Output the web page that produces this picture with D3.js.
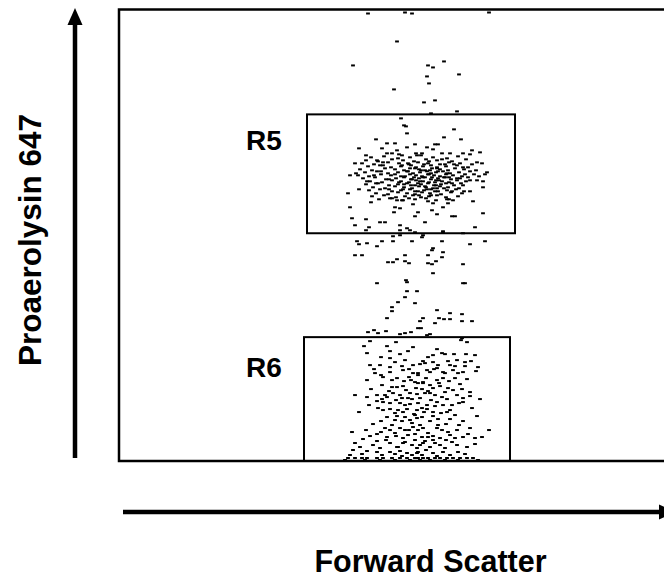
<!DOCTYPE html>
<html>
<head>
<meta charset="utf-8">
<script src="https://cdn.jsdelivr.net/npm/d3@7"></script>
<style>
  html, body { margin: 0; padding: 0; background: #fff; }
  svg { display: block; }
  text { font-family: "Liberation Sans", Arial, Helvetica, sans-serif; font-weight: bold; fill: #000; }
</style>
</head>
<body>
<svg id="chart" width="664" height="581"></svg>
<script>
// ---------- DATA (Forward Scatter, Proaerolysin 647 channel units) ----------
const xLabel = "Forward Scatter";
const yLabel = "Proaerolysin 647";
const fscDomain = [0, 560];
const proDomain = [0, 452];

// gates: name, fsc min/max, pro min/max
const gateNames = ["R5", "R6"];
const gateFsc = [[188, 396], [185, 391]];
const gatePro = [[228, 347], [0, 124]];

// events above R5
const eventsTop = [
  [249,448],[286,449],[293,448],[370,449],[278,420],[234,396],[309,396],[314,394],
  [325,400],[340,387],[308,385],[310,378],[275,372],[316,361],[305,359],[338,350],
  [312,348],[282,343]
];

// R5 sparse events
const eventsR5 = [
  [285,336],[287,335],[288,328],[335,332],[325,324],[342,322],[257,322],[268,318],
  [276,318],[296,317],[316,317],[319,317],[240,313],[263,313],[278,311],[288,314],
  [308,314],[314,312],[353,311],[361,309],[247,306],[268,308],[273,308],[283,306],
  [297,308],[303,308],[323,308],[331,308],[344,308],[351,307],[236,298],[258,301],
  [264,299],[358,299],[363,298],[231,286],[237,288],[368,289],[366,287],[229,268],
  [240,272],[364,280],[358,281],[364,274],[252,259],[354,260],[231,254],[233,243],
  [247,242],[236,236],[261,239],[266,239],[250,234],[281,236],[288,233],[296,245],
  [306,239],[324,230],[333,245],[336,245],[356,234],[364,248],[271,263],[278,261],
  [283,261],[276,254],[281,253],[294,257],[309,260],[314,258],[328,262],[334,261],
  [324,254],[329,258],[313,251],[318,247],[299,249],[275,249]
];

// R5 dense core events
const eventsR5Core = [
  [252,304],[265,305],[279,303],[291,304],[302,306],[314,304],[328,303],[339,305],
  [247,301],[259,300],[273,302],[284,301],[295,300],[307,302],[318,301],[333,300],[347,302],
  [243,298],[255,297],[269,299],[280,298],[290,297],[299,299],[309,298],[321,297],[330,299],[341,298],[353,297],
  [249,295],[261,296],[272,294],[282,295],[292,296],[297,294],[304,295],[312,296],[318,294],[327,295],[338,296],[349,294],
  [241,292],[253,291],[266,293],[276,292],[285,291],[291,293],[300,292],[306,291],[313,293],[321,292],[329,291],[336,293],[345,292],[357,291],
  [246,289],[258,290],[269,288],[279,289],[288,290],[294,288],[301,289],[308,290],[312,288],[317,289],[324,290],[331,288],[340,289],[351,290],
  [239,286],[250,285],[262,287],[272,286],[282,285],[291,287],[297,286],[303,285],[309,287],[315,286],[321,285],[327,287],[334,286],[343,285],[355,287],
  [244,283],[256,284],[267,282],[277,283],[285,284],[293,282],[300,283],[306,284],[312,282],[319,283],[325,284],[332,282],[341,283],[349,284],
  [251,280],[263,279],[273,281],[282,280],[290,279],[297,281],[304,280],[310,279],[317,281],[323,280],[330,279],[338,281],[347,280],
  [247,277],[259,278],[270,276],[279,277],[288,278],[296,276],[302,277],[309,278],[315,276],[322,277],[333,278],[344,276],
  [254,274],[266,273],[276,275],[285,274],[293,273],[300,275],[307,274],[314,273],[321,275],[329,274],[340,273],
  [250,271],[261,272],[273,270],[282,271],[291,272],[299,270],[305,271],[312,272],[319,270],[328,271],[337,272],[351,270],
  [257,268],[269,267],[279,269],[288,268],[296,267],[303,269],[311,268],[322,267],[332,269],[343,268],
  [253,265],[265,266],[277,264],[286,265],[294,266],[302,264],[310,265],[318,266],[327,264],[339,265],
  [260,262],[273,263],[284,261],[296,262],[307,263],[317,261],[330,262]
];

// R5 core, extra irregular events
const eventsR5Extra = [
  [283,296],[296,293],[305,297],[318,293],[326,297],[289,290],[302,291],[310,287],
  [319,290],[328,288],[276,287],[286,285],[295,284],[301,280],[313,284],[320,281],
  [330,284],[338,283],[280,279],[292,276],[299,278],[306,275],[317,276],[327,278],
  [335,276],[284,272],[296,270],[308,272],[316,270],[325,273],[333,270],[270,282],
  [262,290],[257,278],[346,287],[342,278],[289,298],[310,300],[323,302],[298,306],
  [280,307],[335,297],[316,279],[304,284],[311,291],[292,282],[326,284],[285,277],
  [318,273],[300,266],[312,266],[290,263],[270,272],[264,296],[344,294],[351,281],
  [255,286],[248,280],[345,270],[360,285]
];

// events between R5 and R6
const eventsMid = [
  [247,231],[281,231],[291,231],[296,229],[304,226],[324,229],[344,228],[274,225],
  [281,226],[238,220],[240,217],[248,218],[258,215],[263,220],[274,220],[293,220],
  [303,224],[323,220],[351,217],[366,220],[236,206],[243,206],[286,206],[309,206],
  [313,211],[314,213],[324,209],[323,204],[269,199],[274,199],[278,202],[286,200],
  [290,198],[309,198],[313,197],[317,200],[344,197],[314,188],[258,178],[287,181],
  [288,179],[344,178],[346,178],[288,170],[298,170],[286,164],[279,159],[296,158],
  [273,154],[273,150],[318,151],[331,148],[343,147],[268,143],[304,143],[301,140],
  [320,143],[325,142],[331,142],[343,140],[353,140],[316,138],[299,133],[302,133],
  [249,129],[255,131],[259,128],[267,130],[286,128],[281,127],[308,126],[343,123],
  [292,129],[311,127]
];

// R6 events
const eventsR6 = [
  [251,120],[268,115],[277,119],[294,114],[342,121],[348,119],[248,108],[271,110],
  [281,107],[314,106],[323,108],[326,107],[335,107],[347,107],[356,106],[271,103],
  [286,101],[304,100],[314,99],[329,100],[338,101],[346,99],[251,96],[261,96],
  [271,94],[283,95],[294,96],[301,97],[306,98],[319,96],[331,96],[346,95],
  [359,94],[256,88],[271,89],[284,91],[294,88],[299,88],[311,89],[324,89],
  [326,88],[334,91],[344,89],[357,90],[248,81],[264,84],[278,83],[290,84],
  [299,86],[304,78],[318,81],[324,83],[330,80],[336,83],[348,82],[263,76],
  [273,74],[278,74],[284,75],[299,78],[304,79],[311,76],[314,73],[321,75],
  [329,73],[343,72],[351,69],[236,66],[248,64],[258,66],[258,60],[268,64],
  [274,68],[281,66],[291,68],[298,67],[306,68],[311,68],[316,66],[323,64],
  [338,66],[344,63],[351,65],[361,62],[264,59],[271,58],[281,58],[286,56],
  [291,57],[299,58],[308,56],[316,55],[324,56],[333,56],[344,59],[240,49],
  [259,53],[264,51],[271,52],[279,51],[288,52],[298,51],[308,52],[314,49],
  [328,49],[353,53],[268,44],[278,45],[286,44],[296,46],[303,44],[311,40],
  [319,42],[331,42],[344,40],[293,38],[254,37],[273,36],[266,33],[271,31],
  [281,33],[286,31],[294,34],[299,31],[304,33],[318,33],[323,31],[329,29],
  [338,31],[351,33],[370,31],[233,29],[251,25],[258,27],[268,24],[277,25],
  [284,23],[289,26],[303,24],[314,25],[321,23],[336,23],[344,24],[356,23],
  [363,24],[236,18],[241,14],[254,16],[261,13],[271,18],[278,14],[284,18],
  [293,16],[298,13],[304,18],[311,14],[321,16],[326,13],[338,16],[348,14],
  [234,11],[248,10],[258,9],[271,9],[281,10],[288,8],[299,9],[303,6],
  [314,8],[324,9],[339,9],[298,8],
  [229,3],[236,3],[243,3],[248,3],[258,3],[264,3],[273,3],[281,3],[288,3],[296,3],
  [299,3],[304,3],[309,3],[316,3],[321,3],[328,3],[334,3],[341,3],[348,3],[354,3],
  [226,1],[246,1],[261,1],[276,1],[291,1],[301,1],[311,1],[326,1],[339,1],[359,1],
  [292,81],[307,83],[297,73],[309,70],[293,62],[301,63],[312,61],[295,47],
  [305,49],[314,45],[291,41],[301,36],[309,28],[296,21],[306,20],[290,31],
  [301,16],[293,6],[307,11],[314,21],[276,41],[266,66],[326,69],[331,51],
  [319,36],[279,14],[267,21],[327,21],[283,63],[273,81],[308,91],[318,93]
];

// R6 extra events
const eventsR6Extra = [
  [245,115],[262,104],[289,110],[309,104],[318,112],[336,95],[352,100],[276,99],
  [290,92],[255,92],[315,92],[339,88],[262,86],[285,80],[296,79],[320,78],
  [341,77],[270,70],[287,71],[303,72],[334,71],[252,72],[263,62],[277,61],
  [289,63],[318,59],[328,62],[340,58],[250,56],[276,48],[284,49],[303,53],
  [322,48],[336,46],[358,45],[262,40],[283,40],[298,43],[327,37],[340,36],
  [247,31],[262,29],[276,28],[296,27],[309,24],[331,26],[349,27],[244,22],
  [258,20],[286,19],[316,18],[333,19],[356,17],[243,7],[263,6],[276,7],
  [283,5],[318,5],[331,6],[346,7],[231,6]
];

// ---------- DRAW ----------
const svg = d3.select("#chart");
svg.append("rect").attr("width", 664).attr("height", 581).attr("fill", "#fff");

const x = d3.scaleLinear().domain(fscDomain).range([119, 679]);
const y = d3.scaleLinear().domain(proDomain).range([461, 9.5]);

// events
const allEvents = [].concat(eventsTop, eventsR5, eventsR5Core, eventsR5Extra, eventsMid, eventsR6, eventsR6Extra);
svg.append("g").selectAll("rect").data(allEvents).join("rect")
  .attr("x", d => x(d[0]) - 1.9)
  .attr("y", d => y(d[1]) - 1)
  .attr("width", 3.8)
  .attr("height", 2)
  .attr("fill", "#000");

// plot frame
const [x0, x1] = x.range();
const [yb, yt] = y.range();
svg.append("rect")
  .attr("x", x0).attr("y", yt)
  .attr("width", x1 - x0).attr("height", yb - yt)
  .attr("fill", "none").attr("stroke", "#000").attr("stroke-width", 2.5);

// gates
gateNames.forEach((name, i) => {
  const gx0 = x(gateFsc[i][0]), gx1 = x(gateFsc[i][1]);
  const gy0 = y(gatePro[i][1]), gy1 = y(gatePro[i][0]);
  svg.append("rect")
    .attr("x", gx0).attr("y", gy0)
    .attr("width", gx1 - gx0).attr("height", gy1 - gy0)
    .attr("fill", "none").attr("stroke", "#000").attr("stroke-width", 2);
  svg.append("text")
    .attr("x", gx0 - 61 + (i === 1 ? 3 : 0))
    .attr("y", gy0 + (i === 0 ? 36 : 40))
    .attr("font-size", 28)
    .text(name);
});

// axis arrows
svg.append("line").attr("x1", 75).attr("y1", 458).attr("x2", 75).attr("y2", 20)
  .attr("stroke", "#000").attr("stroke-width", 4.5);
svg.append("path").attr("d", "M75,8 L67.5,25 L82.5,25 Z").attr("fill", "#000");

svg.append("line").attr("x1", 123).attr("y1", 512).attr("x2", 662).attr("y2", 512)
  .attr("stroke", "#000").attr("stroke-width", 4.5);
svg.append("path").attr("d", "M676,512 L659,504.5 L659,519.5 Z").attr("fill", "#000");

// axis labels
svg.append("text")
  .attr("x", 430.5).attr("y", 572)
  .attr("text-anchor", "middle")
  .attr("font-size", 30.5)
  .text(xLabel);

svg.append("text")
  .attr("transform", "translate(41,240) rotate(-90)")
  .attr("text-anchor", "middle")
  .attr("font-size", 31.5)
  .text(yLabel);
</script>
</body>
</html>
